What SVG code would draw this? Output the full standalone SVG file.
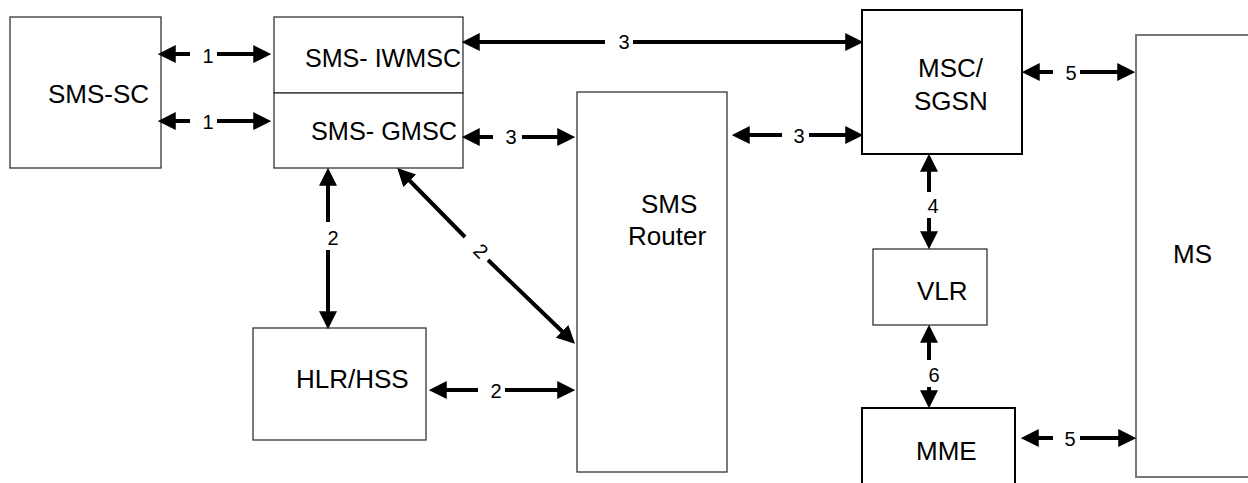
<svg xmlns="http://www.w3.org/2000/svg" width="1248" height="483" viewBox="0 0 1248 483">
<style>
.box{fill:#fff;stroke:#333;stroke-width:1.3}
.bold{fill:#fff;stroke:#000;stroke-width:2}
.lbl{font-family:"Liberation Sans",Arial,sans-serif;font-size:26px;fill:#000}
.num{font-family:"Liberation Sans",Arial,sans-serif;font-size:20px;fill:#000;text-anchor:middle}
.conn{fill:none;stroke:#000;stroke-width:4;marker-start:url(#ah);marker-end:url(#ah)}
</style>
<defs>
<marker id="ah" markerUnits="userSpaceOnUse" markerWidth="18" markerHeight="18" refX="6" refY="8" orient="auto-start-reverse" viewBox="0 0 16 16">
<path d="M0,0 L16,8 L0,16 z" fill="#000"/>
</marker>
</defs>
<rect width="1248" height="483" fill="#fff"/>
<g id="sms-sc"><rect class="box" x="10" y="17" width="151" height="151"/><text class="lbl" x="48" y="103">SMS-SC</text></g>
<g id="sms-iwmsc"><rect class="box" x="274" y="17" width="189" height="76"/><text class="lbl" x="305" y="67" textLength="156" lengthAdjust="spacingAndGlyphs">SMS- IWMSC</text></g>
<g id="sms-gmsc"><rect class="box" x="274" y="93" width="189" height="75"/><text class="lbl" x="311" y="140" textLength="146" lengthAdjust="spacingAndGlyphs">SMS- GMSC</text></g>
<g id="sms-router"><rect class="box" x="577" y="92" width="150" height="380"/><text class="lbl" x="641" y="213">SMS</text><text class="lbl" x="628" y="245">Router</text></g>
<g id="hlr-hss"><rect class="box" x="253" y="328" width="173" height="112"/><text class="lbl" x="296" y="388">HLR/HSS</text></g>
<g id="msc-sgsn"><rect class="bold" x="862" y="10" width="160" height="144"/><text class="lbl" x="918" y="77">MSC/</text><text class="lbl" x="914" y="110">SGSN</text></g>
<g id="vlr"><rect class="box" x="873" y="249" width="114" height="76"/><text class="lbl" x="917" y="300">VLR</text></g>
<g id="mme"><rect class="bold" x="862" y="408" width="153" height="90"/><text class="lbl" x="916" y="460">MME</text></g>
<g id="ms"><rect class="box" x="1136" y="35" width="130" height="442" style="stroke:#777;stroke-width:2"/><text class="lbl" x="1173" y="263">MS</text></g>
<g id="connectors">
<path class="conn" d="M169,54 L190,54 M217,54 L260,54"/>
<text class="num" x="208" y="63">1</text>
<path class="conn" d="M169,121 L190,121 M217,121 L260,121"/>
<text class="num" x="208" y="129">1</text>
<path class="conn" d="M473,42 L605,42 M633,42 L852,42"/>
<text class="num" x="624" y="49">3</text>
<path class="conn" d="M473,137 L493,137 M522,137 L564,137"/>
<text class="num" x="511" y="144">3</text>
<path class="conn" d="M743,135 L782,135 M809,135 L852,135"/>
<text class="num" x="799" y="143">3</text>
<path class="conn" d="M1033,72 L1053,72 M1080,72 L1124,72"/>
<text class="num" x="1071" y="80">5</text>
<path class="conn" d="M929,165 L929,192 M929,218 L929,238"/>
<text class="num" x="933" y="213">4</text>
<path class="conn" d="M929,336 L929,360 M929,387 L929,397"/>
<text class="num" x="934" y="382">6</text>
<path class="conn" d="M1032,438 L1053,438 M1080,438 L1125,438"/>
<text class="num" x="1070" y="446">5</text>
<path class="conn" d="M328,179 L328,222 M328,250 L328,318"/>
<text class="num" x="333" y="245">2</text>
<path class="conn" d="M440,390 L478,390 M505,390 L564,390"/>
<text class="num" x="496" y="398">2</text>
<path class="conn" d="M405.1,176 L465,237 M488,260 L566.9,336"/>
<text class="num" x="481" y="251" transform="rotate(45 481 251)" dy="7">2</text>
</g>
</svg>
